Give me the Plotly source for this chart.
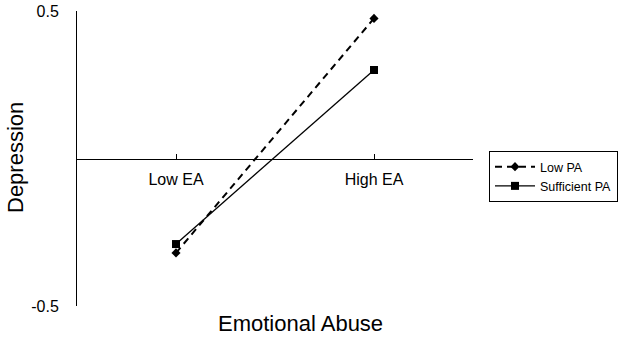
import plotly.graph_objects as go

categories = ["Low EA", "High EA"]
cat_pos = [0, 1]
low_pa = [-0.32, 0.475]
sufficient_pa = [-0.29, 0.30]
y_ticks = [-0.5, 0.5]
y_tick_labels = ["-0.5", "0.5"]

FONT = "Arial, Liberation Sans, sans-serif"

W, H = 624, 337
L, R, T, B = 77, 151, 11, 31
PW, PH = W - L - R, H - T - B


def px_x(x):
    return (x - L) / PW


def px_y(y):
    return (H - B - y) / PH


fig = go.Figure()
fig.add_trace(go.Scatter(
    x=cat_pos, y=low_pa, name="Low PA", mode="lines+markers",
    line=dict(color="black", width=2, dash="7px,5px"),
    marker=dict(symbol="diamond", size=7, color="black"),
))
fig.add_trace(go.Scatter(
    x=cat_pos, y=sufficient_pa, name="Sufficient PA", mode="lines+markers",
    line=dict(color="black", width=1.3),
    marker=dict(symbol="square", size=8, color="black"),
))

fig.update_layout(
    width=W, height=H,
    margin=dict(l=L, r=R, t=T, b=B, autoexpand=False),
    paper_bgcolor="white", plot_bgcolor="white",
    font=dict(family=FONT, color="black"),
    showlegend=True,
    legend=dict(
        x=px_x(489), y=px_y(151), xanchor="left", yanchor="top",
        bordercolor="black", borderwidth=1,
        font=dict(size=12.5, family=FONT),
        tracegroupgap=2,
        itemwidth=40,
    ),
    xaxis=dict(
        range=[-0.5, 1.5],
        tickvals=[0, 1, 1.5], ticktext=categories + [""],
        ticks="inside", ticklen=5, tickcolor="black",
        showline=True, linecolor="black", linewidth=1,
        showgrid=False, zeroline=False,
        anchor="free", position=0.5,
        tickfont=dict(size=16, family=FONT),
        ticklabelstandoff=6,
        automargin=False,
    ),
    yaxis=dict(
        range=[-0.5, 0.5],
        tickvals=y_ticks, ticktext=y_tick_labels,
        ticks="inside", ticklen=5, tickcolor="black",
        showline=True, linecolor="black", linewidth=1,
        showgrid=False, zeroline=False,
        tickfont=dict(size=16, family=FONT),
        ticklabelstandoff=14,
        automargin=False,
    ),
    annotations=[
        dict(text="Emotional Abuse", x=px_x(300), y=px_y(323), xref="paper", yref="paper",
             xanchor="center", yanchor="middle",
             showarrow=False, font=dict(size=22, family=FONT)),
        dict(text="Depression", x=px_x(15), y=px_y(158), xref="paper", yref="paper",
             xanchor="center", yanchor="middle",
             showarrow=False, textangle=-90, font=dict(size=22, family=FONT)),
    ],
)

fig.write_html(
    "out.html",
    config={"displayModeBar": False},
    post_script="document.body.style.margin='0';document.body.style.overflow='hidden';",
)
